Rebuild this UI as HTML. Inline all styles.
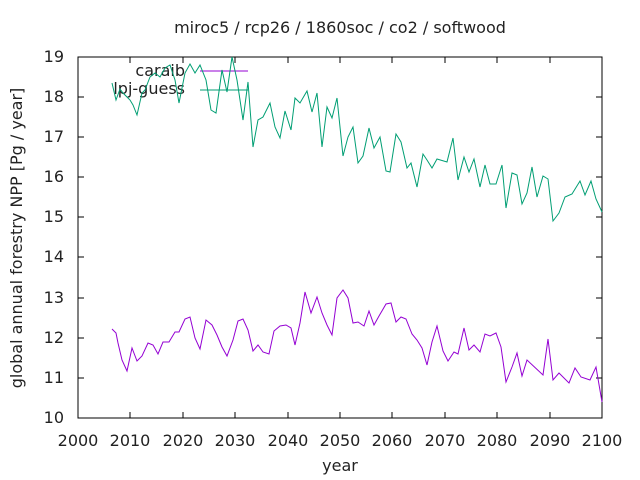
<!DOCTYPE html>
<html><head><style>body{margin:0;background:#fff}svg{display:block}text{font-family:"DejaVu Sans","Liberation Sans",sans-serif;font-size:16px;fill:#222}</style></head><body>
<svg width="640" height="480" viewBox="0 0 640 480">
<rect x="78" y="57" width="524" height="361" fill="none" stroke="#000" stroke-width="1"/>
<g stroke="#000" stroke-width="1">
<path d="M78 418h6M78 378h6M78 338h6M78 298h6M78 257h6M78 217h6M78 177h6M78 137h6M78 97h6M78 57h6M602 418h-6M602 378h-6M602 338h-6M602 298h-6M602 257h-6M602 217h-6M602 177h-6M602 137h-6M602 97h-6M602 57h-6"/>
<path d="M78 418v-6M130 418v-6M183 418v-6M235 418v-6M288 418v-6M340 418v-6M392 418v-6M445 418v-6M497 418v-6M550 418v-6M602 418v-6M78 57v6M130 57v6M183 57v6M235 57v6M288 57v6M340 57v6M392 57v6M445 57v6M497 57v6M550 57v6M602 57v6"/>
</g>
<g text-anchor="end">
<text x="64" y="423">10</text><text x="64" y="383">11</text><text x="64" y="343">12</text><text x="64" y="303">13</text><text x="64" y="262">14</text><text x="64" y="222">15</text><text x="64" y="182">16</text><text x="64" y="142">17</text><text x="64" y="102">18</text><text x="64" y="62">19</text>
</g>
<g text-anchor="middle">
<text x="78" y="446">2000</text><text x="130" y="446">2010</text><text x="183" y="446">2020</text><text x="235" y="446">2030</text><text x="288" y="446">2040</text><text x="340" y="446">2050</text><text x="392" y="446">2060</text><text x="445" y="446">2070</text><text x="497" y="446">2080</text><text x="550" y="446">2090</text><text x="602" y="446">2100</text>
<text x="340" y="471">year</text>
<text x="340" y="33">miroc5 / rcp26 / 1860soc / co2 / softwood</text>
<text transform="translate(22,238) rotate(-90)">global annual forestry NPP [Pg / year]</text>
</g>
<text x="185" y="76" text-anchor="end">caraib</text>
<text x="185" y="94" text-anchor="end">lpj-guess</text>
<path d="M200 71h48" stroke="#9400d3" stroke-width="1"/>
<path d="M200 90h48" stroke="#009e73" stroke-width="1"/>
<polyline fill="none" stroke="#9400d3" stroke-width="1" points="112,329 116,333 118,343 122,360 127,371 132,348 137,361 142,356 148,343 153,345 158,354 163,342 169,342 175,332 179,332 185,319 190,317 195,338 200,349 206,320 212,325 217,335 222,347 227,356 233,340 238,321 243,319 248,330 253,351 258,345 263,352 269,354 274,331 280,326 286,325 291,328 295,345 300,323 305,292 311,313 317,297 322,313 327,325 332,335 337,298 343,290 348,298 350,308 353,323 358,322 364,326 369,311 374,325 379,316 386,304 391,303 396,322 401,317 406,319 412,334 417,340 422,348 427,365 432,342 437,326 443,351 448,361 454,352 458,354 464,328 469,350 474,345 480,352 485,334 490,336 496,333 501,347 506,382 512,367 517,353 522,376 527,360 543,375 548,339 553,380 559,373 569,383 575,368 581,377 590,380 596,367 602,402"/>
<polyline fill="none" stroke="#009e73" stroke-width="1" points="112,83 116,100 120,89 123,93 130,100 133,105 137,115 142,93 145,90 150,77 155,73 160,77 165,68 170,65 175,80 179,103 185,73 190,64 195,73 200,65 206,80 211,110 216,113 222,70 227,92 232,57 237,80 243,120 248,82 253,147 258,120 263,117 270,103 275,127 280,138 285,111 291,130 295,98 300,103 307,91 312,112 317,93 322,147 327,107 332,118 337,98 343,156 348,137 353,127 358,163 363,156 369,128 374,148 380,137 386,171 390,172 396,134 401,142 407,168 411,163 417,187 423,154 427,160 432,168 437,159 447,162 453,138 458,180 464,157 469,172 474,159 480,187 485,165 490,184 496,184 502,165 506,208 512,173 517,175 522,204 527,193 532,167 537,197 543,176 548,179 553,221 559,213 565,197 572,194 580,181 585,195 591,181 596,199 602,212"/>
</svg>
</body></html>
